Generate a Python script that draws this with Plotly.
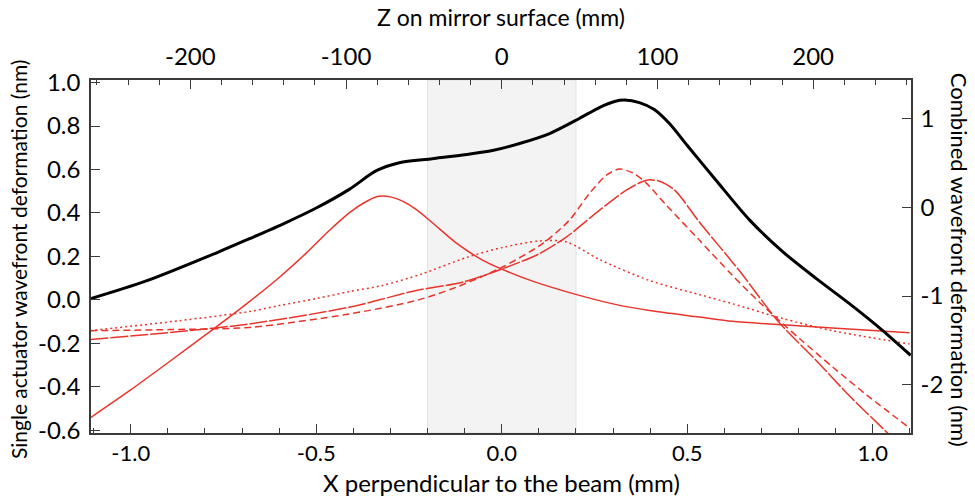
import plotly.graph_objects as go

# ---- data ----
# Combined wavefront deformation (right axis, nm) vs X (mm)
x_combined = [-1.109, -0.958, -0.761, -0.680, -0.590, -0.500, -0.411, -0.338, -0.276, -0.187,
              -0.095, -0.025, 0.048, 0.129, 0.209, 0.263, 0.304, 0.331, 0.371, 0.411,
              0.452, 0.500, 0.578, 0.667, 0.757, 0.848, 0.937, 1.026, 1.102]
combined = [-1.031, -0.830, -0.500, -0.355, -0.190, -0.010, 0.200, 0.410, 0.500, 0.545,
            0.592, 0.637, 0.716, 0.828, 0.997, 1.120, 1.188, 1.204, 1.176, 1.098,
            0.940, 0.693, 0.300, -0.140, -0.500, -0.804, -1.085, -1.385, -1.666]

# Single actuator curves (left axis, nm)
x_act1 = [-1.109, -1.003, -0.896, -0.780, -0.680, -0.599, -0.527, -0.464, -0.411, -0.370,
          -0.335, -0.300, -0.265, -0.230, -0.187, -0.123, -0.052, 0.002, 0.083, 0.202,
          0.309, 0.398, 0.533, 0.622, 0.757, 0.891, 1.099]
act1 = [-0.543, -0.418, -0.285, -0.138, -0.008, 0.104, 0.215, 0.320, 0.400, 0.448,
        0.476, 0.474, 0.452, 0.415, 0.355, 0.262, 0.183, 0.140, 0.086, 0.024,
        -0.022, -0.049, -0.079, -0.099, -0.115, -0.130, -0.152]

x_act2 = [-1.109, -0.869, -0.680, -0.599, -0.499, -0.411, -0.322, -0.214, -0.095, 0.002,
          0.101, 0.174, 0.263, 0.398, 0.533, 0.622, 0.757, 0.891, 1.099]
act2 = [-0.142, -0.096, -0.054, -0.026, 0.006, 0.038, 0.066, 0.120, 0.195, 0.241,
        0.271, 0.267, 0.186, 0.089, 0.024, -0.018, -0.086, -0.142, -0.203]

x_act3 = [-1.109, -0.869, -0.680, -0.411, -0.230, -0.106, 0.002, 0.101, 0.174, 0.263,
          0.336, 0.390, 0.425, 0.466, 0.533, 0.640, 0.748, 0.848, 0.937, 1.045, 1.102]
act3 = [-0.183, -0.146, -0.111, -0.034, 0.043, 0.081, 0.143, 0.212, 0.289, 0.412,
        0.505, 0.551, 0.546, 0.505, 0.357, 0.135, -0.105, -0.280, -0.442, -0.622, -0.723]

x_act4 = [-1.109, -0.896, -0.680, -0.411, -0.230, -0.123, 0.002, 0.110, 0.182, 0.236,
          0.282, 0.317, 0.352, 0.387, 0.444, 0.533, 0.622, 0.695, 0.757, 0.803,
          0.891, 0.983, 1.099]
act4 = [-0.142, -0.137, -0.127, -0.065, -0.003, 0.058, 0.151, 0.259, 0.366, 0.489,
        0.574, 0.602, 0.585, 0.542, 0.435, 0.274, 0.112, -0.012, -0.109, -0.179,
        -0.308, -0.437, -0.590]

x_ticks = [-1.0, -0.5, 0.0, 0.5, 1.0]
x_ticklabels = ["-1.0", "-0.5", "0.0", "0.5", "1.0"]
z_ticks = [-200, -100, 0, 100, 200]
z_ticklabels = ["-200", "-100", "0", "100", "200"]
y_left_ticks = [-0.6, -0.4, -0.2, 0.0, 0.2, 0.4, 0.6, 0.8, 1.0]
y_left_ticklabels = ["-0.6", "-0.4", "-0.2", "0.0", "0.2", "0.4", "0.6", "0.8", "1.0"]
y_right_ticks = [-2, -1, 0, 1]
y_right_ticklabels = ["-2", "-1", "0", "1"]
beam_zone = [-0.2, 0.2]

X_RANGE = [-1.107, 1.103]
Z_PER_X = 238.3

RED = "#e8352c"
FONT = "Lato"

fig = go.Figure()

fig.add_shape(type="rect", xref="x", yref="paper", x0=beam_zone[0], x1=beam_zone[1],
              y0=0, y1=1, fillcolor="#f3f3f3", line=dict(color="#e2e2e2", width=1),
              layer="below")

common = dict(mode="lines", line_shape="spline", showlegend=False, hoverinfo="skip")
fig.add_trace(go.Scatter(x=x_act1, y=act1, line=dict(color=RED, width=1.5, smoothing=0.8), **common))
fig.add_trace(go.Scatter(x=x_act2, y=act2, line=dict(color=RED, width=1.5, dash="2px,3px", smoothing=0.8), **common))
fig.add_trace(go.Scatter(x=x_act3, y=act3, line=dict(color=RED, width=1.5, dash="18px,2px", smoothing=0.8), **common))
fig.add_trace(go.Scatter(x=x_act4, y=act4, line=dict(color=RED, width=1.5, dash="7px,4px", smoothing=0.8), **common))
fig.add_trace(go.Scatter(x=x_combined, y=combined, yaxis="y2",
                         line=dict(color="black", width=3, smoothing=0.8), **common))
# empty trace so that the top (Z) axis is drawn
fig.add_trace(go.Scatter(x=[], y=[], xaxis="x2", yaxis="y", mode="lines",
                         showlegend=False, hoverinfo="skip"))

axcol = "#3a3a3a"
tickfont = dict(family=FONT, size=24, color="black")
base = dict(showline=True, linecolor=axcol, linewidth=1.5, ticks="inside",
            tickcolor=axcol, tickwidth=1.3, ticklen=9, showgrid=False, zeroline=False,
            tickfont=tickfont, autorange=False, automargin=False)

fig.update_layout(
    width=975, height=500,
    margin=dict(l=91, r=64, t=80, b=67),
    plot_bgcolor="white", paper_bgcolor="white",
    font=dict(family=FONT, color="black"),
    xaxis=dict(range=X_RANGE, tickvals=x_ticks, ticktext=x_ticklabels,
               minor=dict(dtick=0.1, ticks="inside", ticklen=5, tickcolor=axcol, tickwidth=1.2),
               ticklabelstandoff=0, **{**base, "tickfont": dict(family=FONT, size=22, color="black")}),
    xaxis2=dict(overlaying="x", side="top", anchor="y",
                range=[X_RANGE[0] * Z_PER_X, X_RANGE[1] * Z_PER_X],
                tickvals=z_ticks, ticktext=z_ticklabels,
                minor=dict(dtick=20, ticks="inside", ticklen=5, tickcolor=axcol, tickwidth=1.2),
                ticklabelstandoff=4, **base),
    yaxis=dict(range=[-0.613, 1.012], tickvals=y_left_ticks, ticktext=y_left_ticklabels,
               ticklabelstandoff=4, **base),
    yaxis2=dict(overlaying="y", side="right", anchor="x",
                range=[-2.54, 1.43], tickvals=y_right_ticks, ticktext=y_right_ticklabels,
                ticklabelstandoff=3, **base),
    annotations=[
        dict(text="X perpendicular to the beam (mm)", xref="paper", yref="paper",
             x=0.5, y=-0.188, xanchor="center", yanchor="bottom", showarrow=False,
             font=dict(family=FONT, size=24, color="black")),
        dict(text="Z on mirror surface (mm)", xref="paper", yref="paper",
             x=0.5, y=1.178, xanchor="center", yanchor="middle", showarrow=False,
             font=dict(family=FONT, size=23, color="black")),
        dict(text="Single actuator wavefront deformation (nm)", xref="paper", yref="paper",
             x=-0.089, y=0.49, xanchor="center", yanchor="middle", showarrow=False,
             textangle=-90, font=dict(family=FONT, size=21, color="black")),
        dict(text="Combined wavefront deformation (nm)", xref="paper", yref="paper",
             x=1.06, y=0.49, xanchor="center", yanchor="middle", showarrow=False,
             textangle=90, font=dict(family=FONT, size=22, color="black")),
    ],
)

fig.write_html("out.html")
